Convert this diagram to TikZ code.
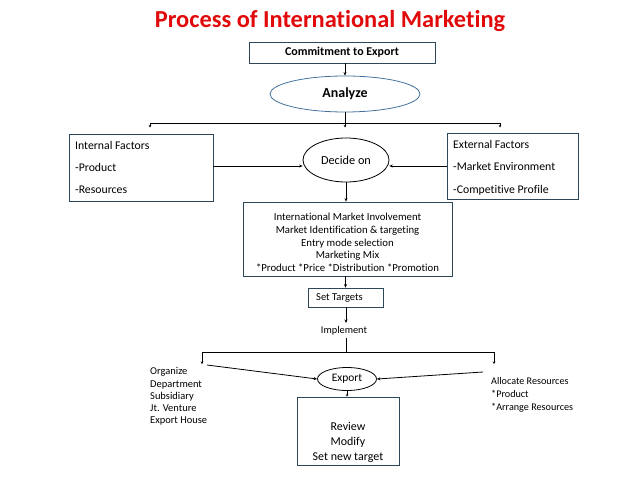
\documentclass[tikz,border=0pt]{standalone}
\usepackage{fontspec}
\setmainfont{Carlito}[Ligatures=NoCommon]
\usetikzlibrary{shapes.geometric,arrows.meta}
\definecolor{boxline}{RGB}{45,70,88}
\definecolor{ellline}{RGB}{65,113,156}
\definecolor{titlered}{RGB}{225,10,10}
\tikzset{
  conn/.style={line width=0.8pt,draw=black},
  arr/.style={conn,-{Stealth[length=3.5pt,width=3pt]}},
  tick/.style={conn,-{Stealth[length=2.5pt,width=2.5pt]}},
  boxnode/.style={draw=boxline,line width=0.8pt,rectangle,inner sep=0pt},
  ellnode/.style={draw,line width=0.8pt,ellipse,inner sep=0pt},
  txt/.style={inner sep=0pt},
}
\begin{document}
\begin{tikzpicture}[x=1bp,y=-1bp]
\useasboundingbox (0,0) rectangle (638,479);
% title
\node[inner sep=0pt,text=titlered,font=\fontsize{24.5}{28}\selectfont\bfseries] (title) at (330,21) {Process of International Marketing};
% commitment
\node[boxnode,minimum width=186bp,minimum height=21bp,font=\fontsize{12}{14}\selectfont\bfseries] (commit) at (342,52.5) {Commitment to Export};
\node[ellnode,draw=ellline,minimum width=150bp,minimum height=36bp,font=\fontsize{14}{16}\selectfont\bfseries] (analyze) at (345,94) {Analyze};
\draw[arr] (commit.south -| analyze.north) -- (analyze.north);
% distribution line
\coordinate (hl) at (150,123);
\coordinate (hm) at (345,123);
\coordinate (hr) at (500,123);
\draw[conn] (analyze.south) -- (hm);
\draw[conn] (hl) -- (hr);
\coordinate (tl) at (150,127.5);
\coordinate (tm) at (345,127.5);
\coordinate (tr) at (500,127.5);
\draw[tick] (hl) -- (tl);
\draw[tick] (hm) -- (tm);
\draw[tick] (hr) -- (tr);
% internal / external
\node[boxnode,minimum width=144bp,minimum height=67bp] (internal) at (141,167.5) {};
\node[txt,anchor=west,align=left,font=\fontsize{11.8}{22.5}\selectfont] (inttxt) at (75,167.5) {Internal Factors\\-Product\\-Resources};
\node[boxnode,minimum width=131bp,minimum height=66bp] (external) at (512.5,166) {};
\node[txt,anchor=west,align=left,font=\fontsize{11.8}{22.5}\selectfont] (exttxt) at (453,167.5) {External Factors\\-Market Environment\\-Competitive Profile};
\node[ellnode,minimum width=86bp,minimum height=44bp,font=\fontsize{12.3}{14}\selectfont] (decide) at (346,160) {Decide on};
\draw[arr] (internal.east |- 0,166) -- (decide.west |- 0,166);
\draw[arr] (external.west |- 0,166) -- (decide.east |- 0,166);
% big box
\node[boxnode,minimum width=209bp,minimum height=74bp] (mix) at (347.5,239) {};
\node[txt,align=center,font=\fontsize{10.8}{12.75}\selectfont] (mixtxt) at (347.5,242.5) {International Market Involvement\\Market Identification \& targeting\\Entry mode selection\\Marketing Mix\\*Product *Price *Distribution *Promotion};
\draw[arr] (decide.south) -- (mix.north -| decide.south);
% set targets
\node[boxnode,minimum width=75bp,minimum height=19bp] (targets) at (345.5,297.5) {};
\node[txt,font=\fontsize{10.6}{12}\selectfont] (tgttxt) at (339.5,297.5) {Set Targets};
\draw[arr] (mix.south -| targets.north) -- (targets.north);
\node[txt,font=\fontsize{10.4}{12}\selectfont] (implement) at (344,331) {Implement};
\coordinate (impltop) at (346,323);
\draw[arr] (targets.south -| impltop) -- (impltop);
% second distribution
\coordinate (i2) at (346,338);
\coordinate (bl) at (202,352);
\coordinate (bm) at (346,352);
\coordinate (br) at (494,352);
\coordinate (bl2) at (202,364);
\coordinate (br2) at (494,364);
\draw[conn] (i2) -- (bm);
\draw[conn] (bl2 |- bl) -- (br);
\draw[tick] (bl) -- (bl2);
\draw[tick] (br) -- (br2);
% export
\node[ellnode,minimum width=59bp,minimum height=23bp,font=\fontsize{11.5}{13}\selectfont] (export) at (347,379) {Export};
\node[txt,anchor=west,align=left,font=\fontsize{10.5}{12.25}\selectfont] (organize) at (150,396.5) {Organize\\Department\\Subsidiary\\Jt. Venture\\Export House};
\node[txt,anchor=west,align=left,font=\fontsize{10.2}{13}\selectfont] (allocate) at (491,395) {Allocate Resources\\*Product\\*Arrange Resources};
\coordinate (ofrom) at (207,365);
\coordinate (afrom) at (483,372);
\draw[arr] (ofrom) -- (export.west);
\draw[arr] (afrom) -- (export.east);
% review
\node[boxnode,minimum width=102bp,minimum height=68bp] (review) at (348,431) {};
\node[txt,align=center,font=\fontsize{12}{15}\selectfont] (revtxt) at (348,442) {Review\\Modify\\Set new target};
\draw[tick] (export.south) -- (review.north -| export.south);
\end{tikzpicture}
\end{document}
